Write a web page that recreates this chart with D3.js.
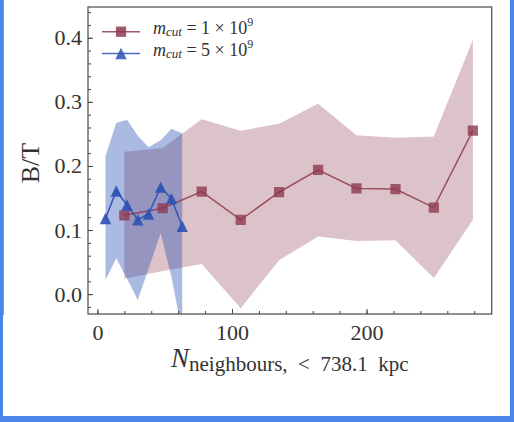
<!DOCTYPE html>
<html>
<head>
<meta charset="utf-8">
<script src="https://cdn.jsdelivr.net/npm/d3@7"></script>
<style>
  body { margin: 0; background: #fff; }
  text { font-family: "Liberation Serif", "DejaVu Serif", serif; fill: #333; }
</style>
</head>
<body>
<script>
// m_cut = 1e9 series (squares)
var redX = [20, 48.5, 77.5, 106.5, 135, 164, 192.5, 221.5, 250, 279];
var redY = [0.123, 0.134, 0.160, 0.116, 0.159, 0.194, 0.165, 0.164, 0.135, 0.255];
var redHi = [0.222, 0.228, 0.273, 0.255, 0.266, 0.297, 0.248, 0.244, 0.246, 0.397];
var redLo = [0.024, 0.036, 0.047, -0.022, 0.053, 0.090, 0.083, 0.084, 0.025, 0.116];

// m_cut = 5e9 series (triangles)
var blueX = [6, 14, 22, 30, 38, 47, 55, 63];
var blueY = [0.118, 0.161, 0.139, 0.116, 0.125, 0.167, 0.149, 0.106];
var blueHi = [0.215, 0.267, 0.272, 0.247, 0.229, 0.240, 0.258, 0.251];
var blueLo = [0.022, 0.056, 0.024, -0.009, 0.040, 0.095, 0.027, -0.060];

var xTicks = [0, 100, 200];
var yTicks = [0.0, 0.1, 0.2, 0.3, 0.4];
var legendLabels = ["1", "5"];

var W = 514, H = 422;
var pLeft = 88, pRight = 491.7, pTop = 7, pBottom = 314;

var svg = d3.select("body").append("svg").attr("width", W).attr("height", H);

var x = d3.scaleLinear().domain([-7, 293]).range([pLeft, pRight]);
var y = d3.scaleLinear().domain([-0.031, 0.448]).range([pBottom, pTop]);

var red = "#8e3a50", blue = "#2b52b4";

svg.append("clipPath").attr("id", "clip").append("rect")
  .attr("x", pLeft).attr("y", pTop).attr("width", pRight - pLeft).attr("height", pBottom - pTop);

function zipRows(xs, ys, lo, hi) {
  return xs.map(function(d, i) { return {x: d, y: ys[i], lo: lo[i], hi: hi[i]}; });
}
var redData = zipRows(redX, redY, redLo, redHi);
var blueData = zipRows(blueX, blueY, blueLo, blueHi);

var area = d3.area().x(function(d) { return x(d.x); })
  .y0(function(d) { return y(d.lo); }).y1(function(d) { return y(d.hi); });
var line = d3.line().x(function(d) { return x(d.x); }).y(function(d) { return y(d.y); });

var plot = svg.append("g").attr("clip-path", "url(#clip)");
plot.append("path").datum(redData).attr("d", area).attr("fill", red).attr("fill-opacity", 0.31);
plot.append("path").datum(blueData).attr("d", area).attr("fill", blue).attr("fill-opacity", 0.4);

var triUp = {
  draw: function(ctx, size) {
    var r = Math.sqrt(size) / 2;
    ctx.moveTo(0, -r); ctx.lineTo(-r, r); ctx.lineTo(r, r); ctx.closePath();
  }
};
var square = d3.symbol(d3.symbolSquare, 105);
var tri = d3.symbol(triUp, 130);

plot.append("path").datum(redData).attr("d", line).attr("fill", "none")
  .attr("stroke", red).attr("stroke-width", 1.5).attr("stroke-opacity", 0.85);
plot.selectAll(".sq").data(redData).enter().append("path")
  .attr("transform", function(d) { return "translate(" + x(d.x) + "," + y(d.y) + ")"; })
  .attr("d", square).attr("fill", red).attr("fill-opacity", 0.8);

plot.append("path").datum(blueData).attr("d", line).attr("fill", "none")
  .attr("stroke", blue).attr("stroke-width", 1.6).attr("stroke-opacity", 0.9);
plot.selectAll(".tr").data(blueData).enter().append("path")
  .attr("transform", function(d) { return "translate(" + x(d.x) + "," + y(d.y) + ")"; })
  .attr("d", tri).attr("fill", blue).attr("fill-opacity", 0.9);

// axes
var xMinor = d3.range(0, 290, 20);
var yMinor = d3.range(-0.02, 0.45, 0.02);

svg.append("g").attr("transform", "translate(0," + pBottom + ")")
  .call(d3.axisBottom(x).tickValues(xTicks).tickSize(-5).tickPadding(10).tickFormat(d3.format("d")));
svg.append("g").attr("transform", "translate(0," + pBottom + ")")
  .call(d3.axisBottom(x).tickValues(xMinor).tickSize(-3).tickFormat(""));

svg.append("g").attr("transform", "translate(" + pLeft + ",0)")
  .call(d3.axisLeft(y).tickValues(yTicks).tickSize(-5).tickPadding(6).tickFormat(d3.format(".1f")));
svg.append("g").attr("transform", "translate(" + pLeft + ",0)")
  .call(d3.axisLeft(y).tickValues(yMinor).tickSize(-3).tickFormat(""));

svg.selectAll(".domain").remove();
svg.selectAll(".tick line").attr("stroke", "#444").attr("stroke-width", 1);
svg.selectAll(".tick text").style("font-family", "Liberation Serif, serif")
  .style("font-size", "22px").attr("fill", "#333");

svg.append("rect").attr("x", pLeft).attr("y", pTop).attr("width", pRight - pLeft).attr("height", pBottom - pTop)
  .attr("fill", "none").attr("stroke", "#555").attr("stroke-width", 1.3);

// axis labels
svg.append("text").attr("transform", "translate(39,163) rotate(-90)")
  .attr("text-anchor", "middle").style("font-size", "26px").text("B/T");

var xl = svg.append("text").attr("x", 171).attr("y", 367);
xl.append("tspan").style("font-style", "italic").style("font-size", "27px").text("N");
xl.append("tspan").attr("dy", 4).style("font-size", "21px").attr("xml:space", "preserve")
  .text("neighbours,  <  738.1  kpc");

// legend
var legend = svg.append("g");
var legRows = [{c: red, sym: square, yPos: 31.7, lab: legendLabels[0]},
               {c: blue, sym: tri, yPos: 53.5, lab: legendLabels[1]}];
legRows.forEach(function(r) {
  legend.append("line").attr("x1", 102).attr("x2", 140).attr("y1", r.yPos).attr("y2", r.yPos)
    .attr("stroke", r.c).attr("stroke-width", 1.6).attr("stroke-opacity", 0.85);
  legend.append("path").attr("transform", "translate(121," + r.yPos + ")")
    .attr("d", r.sym).attr("fill", r.c).attr("fill-opacity", 0.85);
  var t = legend.append("text").attr("x", 153).attr("y", r.yPos + 2).style("font-size", "18px");
  t.append("tspan").style("font-style", "italic").text("m");
  t.append("tspan").style("font-style", "italic").style("font-size", "13px").attr("dy", 2).text("cut");
  t.append("tspan").attr("dy", -2).text(" = " + r.lab + " \u00d7 10");
  t.append("tspan").style("font-size", "12px").attr("dy", -8).text("9");
});

// outer frame
var frame = "#4a86e8";
svg.append("rect").attr("x", 0).attr("y", 0).attr("width", 3).attr("height", H).attr("fill", frame);
svg.append("rect").attr("x", 510).attr("y", 0).attr("width", 4).attr("height", H).attr("fill", frame);
svg.append("rect").attr("x", 0).attr("y", 416).attr("width", W).attr("height", 6).attr("fill", frame);
svg.append("line").attr("x1", 3.5).attr("x2", 3.5).attr("y1", 0).attr("y2", 315)
  .attr("stroke", "#999").attr("stroke-width", 1);
</script>
</body>
</html>
